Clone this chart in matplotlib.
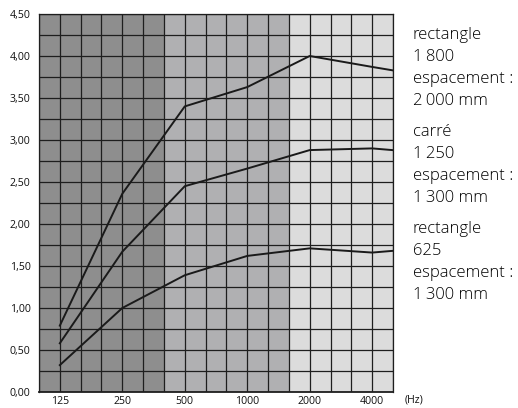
import numpy as np
import matplotlib
matplotlib.use("Agg")
import matplotlib.pyplot as plt
from matplotlib.ticker import FixedLocator, NullFormatter

plt.rcParams['font.family'] = ['Open Sans', 'DejaVu Sans']

# frequencies (Hz) and absorption values
freqs = [125, 250, 500, 1000, 2000, 4000, 5000]
rect_1800 = [0.79, 2.36, 3.40, 3.63, 4.00, 3.87, 3.83]
carre_1250 = [0.58, 1.67, 2.45, 2.66, 2.88, 2.90, 2.88]
rect_625 = [0.32, 1.00, 1.39, 1.62, 1.71, 1.66, 1.68]

tick_freqs = [125, 250, 500, 1000, 2000, 4000]
tick_labels = ["125", "250", "500", "1000", "2000", "4000"]
y_ticks = np.arange(0, 4.51, 0.5)

labels = [
    ["rectangle", "1\u2009800", "espacement :", "2\u2009000 mm"],
    ["carré", "1\u2009250", "espacement :", "1\u2009300 mm"],
    ["rectangle", "625", "espacement :", "1\u2009300 mm"],
]

fig = plt.figure(figsize=(5.18, 4.08), dpi=100)
ax = fig.add_axes([39 / 518, 16 / 408, 354 / 518, 378 / 408])
ax.set_xscale('log', base=2)

x_left = 125 * 2 ** (-1 / 3)
x_right = 4000 * 2 ** (1 / 3)
ax.set_xlim(x_left, x_right)
ax.set_ylim(0, 4.5)

# background bands
ax.axvspan(x_left, 125 * 2 ** (5 / 3), color='#8e8e8e', zorder=0, lw=0)
ax.axvspan(125 * 2 ** (5 / 3), 125 * 2 ** (11 / 3), color='#b0b0b2', zorder=0, lw=0)
ax.axvspan(125 * 2 ** (11 / 3), x_right, color='#dcdcdc', zorder=0, lw=0)

# grid: third-octave columns, 0.25 rows
third_octaves = [125 * 2 ** (k / 3) for k in range(-1, 17)]
ax.xaxis.set_major_locator(FixedLocator(tick_freqs))
ax.xaxis.set_minor_locator(FixedLocator(third_octaves))
ax.xaxis.set_minor_formatter(NullFormatter())
ax.set_xticklabels(tick_labels)
ax.set_yticks(y_ticks)
ax.set_yticklabels([f"{v:.2f}".replace(".", ",") for v in y_ticks])
ax.yaxis.set_minor_locator(FixedLocator(np.arange(0, 4.51, 0.25)))
ax.grid(which='both', color='#1e1e1e', linewidth=0.9)
ax.set_axisbelow(True)
ax.tick_params(which='both', length=0, labelsize=7.6, colors='#111111')
ax.tick_params(axis='x', pad=3)
ax.tick_params(axis='y', pad=6)
for s in ax.spines.values():
    s.set_color('#1e1e1e')
    s.set_linewidth(0.9)
ax.spines['bottom'].set_linewidth(1.3)

for series in (rect_1800, carre_1250, rect_625):
    ax.plot(freqs, series, color='#1a1a1a', linewidth=1.4, zorder=3, clip_on=False)

fig.text(405 / 518, 1 - 402 / 408, "(Hz)", fontsize=7.6, color='#111111', va='baseline')

for i, block in enumerate(labels):
    for j, line in enumerate(block):
        y = 39 + 97 * i + 22 * j
        fig.text(413 / 518, 1 - y / 408, line, fontsize=12, color='#000000',
                 va='baseline', fontweight='light')

fig.savefig("out.png", dpi=100)
